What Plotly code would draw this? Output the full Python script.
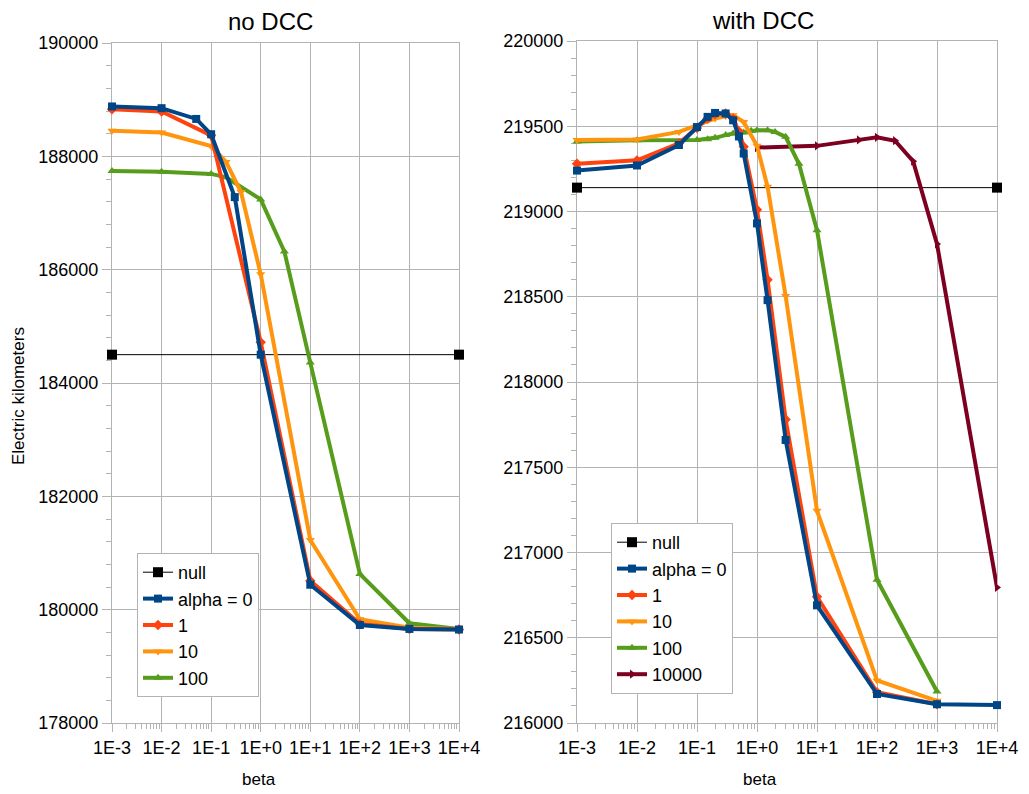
import plotly.graph_objects as go

# ---------------- data: no DCC ----------------
left_null_x = [0.001, 10000]
left_null_y = [184500, 184500]
left_a0_x = [0.001, 0.01, 0.05, 0.1, 0.3, 1, 10, 100, 1000, 10000]
left_a0_y = [188880, 188850, 188660, 188390, 187280, 184500, 180440, 179730, 179660, 179650]
left_a1_x = [0.001, 0.01, 0.1, 1, 10, 100, 1000, 10000]
left_a1_y = [188830, 188790, 188370, 184720, 180510, 179750, 179660, 179650]
left_a10_x = [0.001, 0.01, 0.1, 0.2, 0.4, 1, 10, 100, 1000, 10000]
left_a10_y = [188450, 188420, 188180, 187900, 187370, 185920, 181230, 179830, 179680, 179660]
left_a100_x = [0.001, 0.01, 0.1, 0.2, 1, 3, 10, 100, 1000, 10000]
left_a100_y = [187740, 187730, 187690, 187630, 187240, 186320, 184360, 180630, 179760, 179660]

# ---------------- data: with DCC ----------------
right_null_x = [0.001, 10000]
right_null_y = [219140, 219140]
right_a0_x = [0.001, 0.01, 0.05, 0.1, 0.15, 0.2, 0.3, 0.4, 0.5, 0.6, 1, 1.5, 3, 10, 100, 1000, 10000]
right_a0_y = [219240, 219270, 219390, 219495, 219555, 219578, 219575, 219535, 219440, 219340,
              218930, 218480, 217660, 216690, 216170, 216110, 216105]
right_a1_x = [0.001, 0.01, 0.05, 0.1, 0.15, 0.2, 0.3, 0.4, 0.5, 0.6, 1, 1.5, 3, 10, 100, 1000]
right_a1_y = [219280, 219300, 219400, 219490, 219545, 219570, 219575, 219545, 219470, 219380,
              219010, 218600, 217780, 216740, 216180, 216110]
right_a10_x = [0.001, 0.01, 0.05, 0.1, 0.2, 0.3, 0.4, 0.6, 1, 1.5, 3, 10, 100, 1000]
right_a10_y = [219420, 219422, 219467, 219505, 219545, 219560, 219565, 219525, 219385, 219145,
               218505, 217245, 216250, 216130]
right_a100_x = [0.001, 0.01, 0.1, 0.15, 0.2, 0.3, 0.4, 0.6, 0.8, 1, 1.5, 2, 3, 5, 10, 100, 1000]
right_a100_y = [219410, 219418, 219420, 219424, 219432, 219448, 219457, 219463, 219473, 219477,
                219477, 219467, 219438, 219280, 218890, 216840, 216185]
right_a10000_x = [1, 10, 50, 100, 200, 400, 1000, 10000]
right_a10000_y = [219375, 219385, 219420, 219435, 219415, 219295, 218810, 216795]

x_tickvals = [0.001, 0.01, 0.1, 1, 10, 100, 1000, 10000]
x_ticktext = ["1E-3", "1E-2", "1E-1", "1E+0", "1E+1", "1E+2", "1E+3", "1E+4"]

FONT = "Liberation Sans, Arial, sans-serif"
GRID = "#b3b3b3"
BLUE, RED, ORANGE, GREEN, DARKRED = "#004586", "#ff420e", "#ff950e", "#579d1c", "#7e0021"

fig = go.Figure()

def add(x, y, name, color, symbol, xa, ya, legend, rank, width=4, size=8):
    fig.add_trace(go.Scatter(
        x=x, y=y, name=name, mode="lines+markers",
        line=dict(color=color, width=width),
        marker=dict(color=color, symbol=symbol, size=size),
        xaxis=xa, yaxis=ya, legend=legend, legendrank=rank, cliponaxis=False))

# drawn in reverse so blue sits on top; legend order kept via legendrank
add(left_null_x, left_null_y, "null", "#000000", "square", "x", "y", "legend", 1, width=1, size=10)
add(left_a100_x, left_a100_y, "100", GREEN, "triangle-up", "x", "y", "legend", 5)
add(left_a10_x, left_a10_y, "10", ORANGE, "triangle-down", "x", "y", "legend", 4)
add(left_a1_x, left_a1_y, "1", RED, "diamond", "x", "y", "legend", 3)
add(left_a0_x, left_a0_y, "alpha = 0", BLUE, "square", "x", "y", "legend", 2)

add(right_null_x, right_null_y, "null", "#000000", "square", "x2", "y2", "legend2", 1, width=1, size=10)
add(right_a10000_x, right_a10000_y, "10000", DARKRED, "triangle-right", "x2", "y2", "legend2", 6)
add(right_a100_x, right_a100_y, "100", GREEN, "triangle-up", "x2", "y2", "legend2", 5)
add(right_a10_x, right_a10_y, "10", ORANGE, "triangle-down", "x2", "y2", "legend2", 4)
add(right_a1_x, right_a1_y, "1", RED, "diamond", "x2", "y2", "legend2", 3)
add(right_a0_x, right_a0_y, "alpha = 0", BLUE, "square", "x2", "y2", "legend2", 2)

minor_x = [k * 10 ** d for d in range(-3, 4) for k in range(2, 10)]

W, H = 1029, 794
def px(v): return v / W
def py(v): return 1 - v / H

xcommon = dict(type="log", range=[-3, 4], tickvals=x_tickvals, ticktext=x_ticktext,
               showgrid=True, gridcolor=GRID, gridwidth=1, showline=True, linecolor=GRID,
               linewidth=1, mirror=True, ticks="outside", ticklen=8, tickcolor=GRID,
               tickfont=dict(size=18, color="#000", family=FONT), zeroline=False,
               minor=dict(tickvals=minor_x, ticks="outside", ticklen=5, tickcolor=GRID,
                          showgrid=False),
               layer="below traces", automargin=False)
ycommon = dict(showgrid=True, gridcolor=GRID, gridwidth=1, showline=True, linecolor=GRID,
               linewidth=1, mirror=True, ticks="outside", ticklen=9, tickcolor=GRID,
               tickformat="d", tickfont=dict(size=18, color="#000", family=FONT),
               zeroline=False, layer="below traces", automargin=False)

def note(text, x, y, size, angle=0):
    return dict(text=text, x=px(x), y=py(y), xref="paper", yref="paper",
                xanchor="center", yanchor="middle", showarrow=False, textangle=angle,
                font=dict(size=size, family=FONT, color="#000"))

fig.update_layout(
    width=W, height=H, margin=dict(l=0, r=0, t=0, b=0),
    paper_bgcolor="white", plot_bgcolor="white",
    font=dict(family=FONT, color="#000"),
    xaxis=dict(domain=[px(112), px(459)], anchor="y", **xcommon),
    yaxis=dict(domain=[py(723), py(43)], anchor="x", range=[178000, 190000], dtick=2000,
               minor=dict(dtick=400, ticks="outside", ticklen=5, tickcolor=GRID, showgrid=False),
               **ycommon),
    xaxis2=dict(domain=[px(577), px(997)], anchor="y2", **xcommon),
    yaxis2=dict(domain=[py(723), py(41)], anchor="x2", range=[216000, 220000], dtick=500,
                minor=dict(dtick=100, ticks="outside", ticklen=5, tickcolor=GRID, showgrid=False),
                **ycommon),
    legend=dict(x=px(137), y=py(553), xanchor="left", yanchor="top",
                bgcolor="white", bordercolor=GRID, borderwidth=1,
                font=dict(size=18, family=FONT, color="#000"), tracegroupgap=0,
                itemwidth=30),
    legend2=dict(x=px(611), y=py(523), xanchor="left", yanchor="top",
                 bgcolor="white", bordercolor=GRID, borderwidth=1,
                 font=dict(size=18, family=FONT, color="#000"), tracegroupgap=0,
                 itemwidth=30),
    showlegend=True,
    annotations=[
        note("no DCC", 270, 21, 24),
        note("with DCC", 763, 20, 24),
        note("beta", 259, 779, 17),
        note("beta", 760, 779, 17),
        note("Electric kilometers", 18, 396, 17, angle=-90),
    ],
)

fig.write_html("out.html")
